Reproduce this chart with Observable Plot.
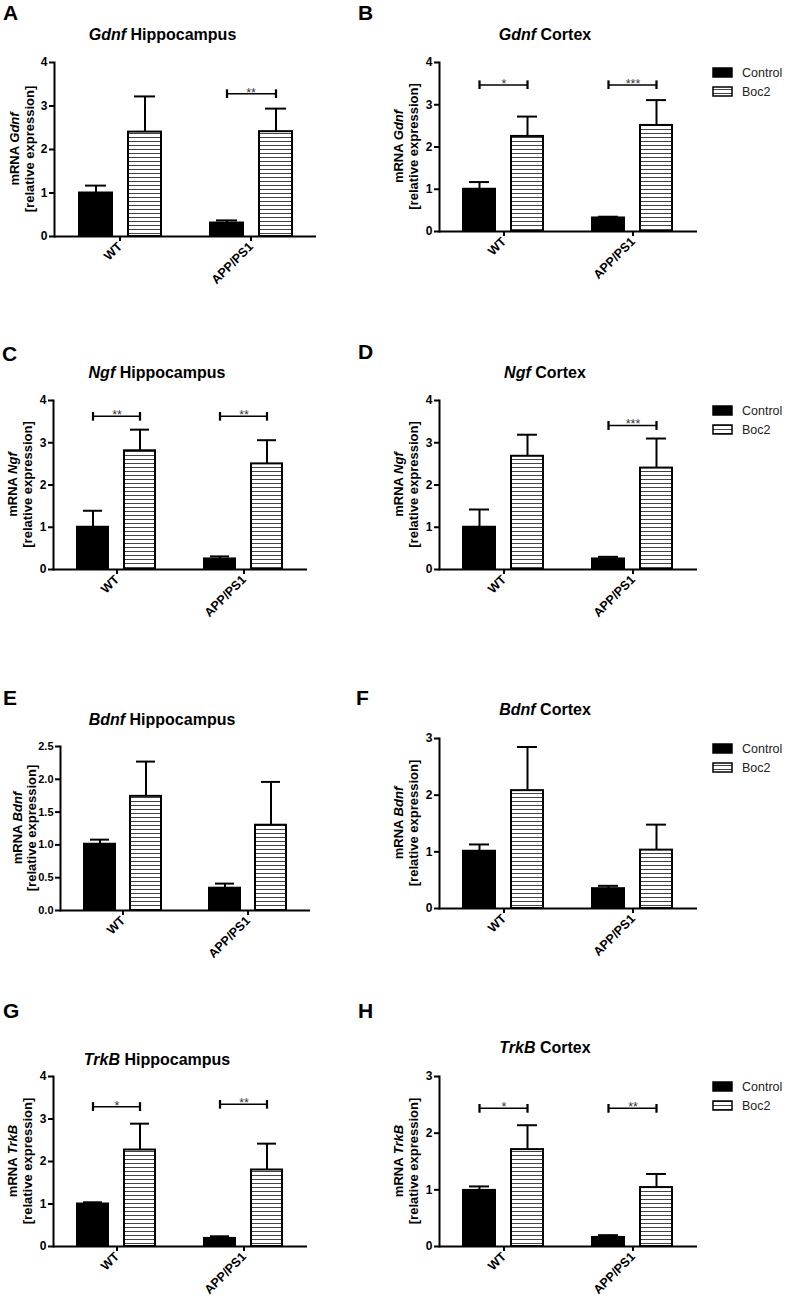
<!DOCTYPE html>
<html><head><meta charset="utf-8">
<script src="https://cdn.jsdelivr.net/npm/d3@7"></script>
<script src="https://cdn.jsdelivr.net/npm/@observablehq/plot@0.6"></script>
<style>
html,body{margin:0;padding:0;background:#fff;}
#root{position:relative;width:787px;height:1303px;overflow:hidden;font-family:"Liberation Sans",Arial,sans-serif;}
#root > svg{position:absolute;}
</style></head><body>
<svg width="0" height="0" style="position:absolute;left:0;top:0">
<defs>
<pattern id="stripes" patternUnits="userSpaceOnUse" width="8" height="4">
<rect width="8" height="4" fill="#fff"/>
<line x1="0" x2="8" y1="1.5" y2="1.5" stroke="#444" stroke-width="1"/>
</pattern>
</defs>
</svg>
<div id="root"></div>
<script>
// ---------- data ----------
const groups = ["WT", "APP/PS1"];
const treatments = ["Control", "Boc2"];
// order of values: WT-Control, WT-Boc2, APP/PS1-Control, APP/PS1-Boc2
const gdnfHippMean = [1.00, 2.40, 0.31, 2.41];
const gdnfHippSem  = [0.17, 0.82, 0.06, 0.53];
const gdnfHippSig  = [{group: "APP/PS1", y: 3.28, stars: "**"}];

const gdnfCortMean = [1.00, 2.25, 0.32, 2.51];
const gdnfCortSem  = [0.17, 0.47, 0.03, 0.60];
const gdnfCortSig  = [{group: "WT", y: 3.47, stars: "*"}, {group: "APP/PS1", y: 3.47, stars: "***"}];

const ngfHippMean = [1.00, 2.81, 0.25, 2.50];
const ngfHippSem  = [0.39, 0.50, 0.06, 0.56];
const ngfHippSig  = [{group: "WT", y: 3.63, stars: "**"}, {group: "APP/PS1", y: 3.63, stars: "**"}];

const ngfCortMean = [1.00, 2.68, 0.25, 2.40];
const ngfCortSem  = [0.42, 0.51, 0.05, 0.70];
const ngfCortSig  = [{group: "APP/PS1", y: 3.41, stars: "***"}];

const bdnfHippMean = [1.01, 1.74, 0.34, 1.30];
const bdnfHippSem  = [0.07, 0.53, 0.07, 0.66];
const bdnfHippSig  = [];

const bdnfCortMean = [1.01, 2.08, 0.35, 1.03];
const bdnfCortSem  = [0.12, 0.77, 0.05, 0.45];
const bdnfCortSig  = [];

const trkbHippMean = [1.00, 2.27, 0.19, 1.80];
const trkbHippSem  = [0.04, 0.62, 0.05, 0.62];
const trkbHippSig  = [{group: "WT", y: 3.29, stars: "*"}, {group: "APP/PS1", y: 3.35, stars: "**"}];

const trkbCortMean = [0.99, 1.71, 0.16, 1.04];
const trkbCortSem  = [0.07, 0.43, 0.04, 0.24];
const trkbCortSig  = [{group: "WT", y: 2.44, stars: "*"}, {group: "APP/PS1", y: 2.44, stars: "**"}];

const ticks4 = [0, 1, 2, 3, 4];
const ticks3 = [0, 1, 2, 3];
const ticks25 = [0, 0.5, 1, 1.5, 2, 2.5];

// ---------- panels ----------
const panels = [
  {letter: "A", gene: "Gdnf", region: "Hippocampus", mean: gdnfHippMean, sem: gdnfHippSem, sig: gdnfHippSig, ymax: 4, ticks: ticks4, fmt: "d",
   x0: 54, x1: 316, yt: 62, yb: 236, titleY: 40, letterX: 3, letterY: 20, legend: false, lab1: 40, lab2: 25, tickFont: 12},
  {letter: "B", gene: "Gdnf", region: "Cortex", mean: gdnfCortMean, sem: gdnfCortSem, sig: gdnfCortSig, ymax: 4, ticks: ticks4, fmt: "d",
   x0: 438, x1: 697, yt: 62, yb: 231, titleY: 40, letterX: 358, letterY: 20, legend: true, lab1: 40, lab2: 25, tickFont: 12},
  {letter: "C", gene: "Ngf", region: "Hippocampus", mean: ngfHippMean, sem: ngfHippSem, sig: ngfHippSig, ymax: 4, ticks: ticks4, fmt: "d",
   x0: 52, x1: 307, yt: 400, yb: 569, titleY: 378, letterX: 2, letterY: 361, legend: false, lab1: 40, lab2: 25, tickFont: 12},
  {letter: "D", gene: "Ngf", region: "Cortex", mean: ngfCortMean, sem: ngfCortSem, sig: ngfCortSig, ymax: 4, ticks: ticks4, fmt: "d",
   x0: 438, x1: 697, yt: 400, yb: 569, titleY: 378, letterX: 358, letterY: 359, legend: true, lab1: 40, lab2: 25, tickFont: 12},
  {letter: "E", gene: "Bdnf", region: "Hippocampus", mean: bdnfHippMean, sem: bdnfHippSem, sig: bdnfHippSig, ymax: 2.5, ticks: ticks25, fmt: ".1f",
   x0: 59, x1: 310, yt: 746, yb: 910, titleY: 725, letterX: 3, letterY: 705, legend: false, lab1: 42, lab2: 28, tickFont: 11},
  {letter: "F", gene: "Bdnf", region: "Cortex", mean: bdnfCortMean, sem: bdnfCortSem, sig: bdnfCortSig, ymax: 3, ticks: ticks3, fmt: "d",
   x0: 438, x1: 697, yt: 738, yb: 908, titleY: 715, letterX: 356, letterY: 705, legend: true, lab1: 40, lab2: 25, tickFont: 12},
  {letter: "G", gene: "TrkB", region: "Hippocampus", mean: trkbHippMean, sem: trkbHippSem, sig: trkbHippSig, ymax: 4, ticks: ticks4, fmt: "d",
   x0: 52, x1: 307, yt: 1076, yb: 1246, titleY: 1065, letterX: 3, letterY: 1018, legend: false, lab1: 40, lab2: 25, tickFont: 12},
  {letter: "H", gene: "TrkB", region: "Cortex", mean: trkbCortMean, sem: trkbCortSem, sig: trkbCortSig, ymax: 3, ticks: ticks3, fmt: "d",
   x0: 438, x1: 697, yt: 1076, yb: 1246, titleY: 1053, letterX: 358, letterY: 1018, legend: true, lab1: 40, lab2: 25, tickFont: 12}
];

const root = document.getElementById("root");
const FONT = "Liberation Sans, Arial, sans-serif";

for (const p of panels) {
  const ml = 40, mr = 8, mt = 10, mb = 75;
  const w = p.x1 - p.x0, h = p.yb - p.yt;
  const rows = [];
  groups.forEach((g, gi) => treatments.forEach((t, ti) => {
    const k = gi * 2 + ti;
    rows.push({group: g, treat: t, mean: p.mean[k], hi: p.mean[k] + p.sem[k]});
  }));
  const chart = Plot.plot({
    width: ml + w + mr, height: mt + h + mb,
    marginLeft: ml, marginRight: mr, marginTop: mt, marginBottom: mb,
    style: {fontFamily: FONT, background: "transparent", overflow: "visible"},
    fx: {domain: groups, padding: 0, axis: null},
    x: {domain: treatments, paddingInner: 0.33, paddingOuter: 0.5, axis: null},
    y: {domain: [0, p.ymax], axis: null},
    marks: [
      Plot.barY(rows.filter(d => d.treat === "Control"), {fx: "group", x: "treat", y: "mean", fill: "black", stroke: "black", strokeWidth: 2}),
      Plot.barY(rows.filter(d => d.treat === "Boc2"), {fx: "group", x: "treat", y: "mean", fill: "url(#stripes)", stroke: "black", strokeWidth: 2}),
      Plot.ruleX(rows, {fx: "group", x: "treat", y1: "mean", y2: "hi", stroke: "black", strokeWidth: 2}),
      Plot.tickY(rows, {fx: "group", x: "treat", y: "hi", inset: 6, stroke: "black", strokeWidth: 2}),
      Plot.ruleY([0], {stroke: "black", strokeWidth: 2}),
      Plot.frame({anchor: "left", facetAnchor: "left", stroke: "black", strokeWidth: 2}),
      Plot.axisY({ticks: p.ticks, tickSize: 5, tickPadding: 2, tickFormat: p.fmt, fontWeight: "bold", fontSize: p.tickFont, strokeWidth: 2, label: null}),
      Plot.axisFx({anchor: "bottom", tickSize: 5, tickPadding: 3, tickRotate: -45, fontWeight: "bold", fontSize: 12.5, strokeWidth: 2, label: null}),
      Plot.link(p.sig, {fx: "group", x1: () => "Control", x2: () => "Boc2", y1: "y", y2: "y", stroke: "black", strokeWidth: 1.5, markerStart: "tick", markerEnd: "tick"}),
      Plot.text(p.sig, {fx: "group", y: "y", text: "stars", frameAnchor: "middle", lineAnchor: "bottom", dy: 3, fontSize: 12.5, fill: "#333", letterSpacing: 1})
    ]
  });
  chart.style.left = (p.x0 - ml) + "px";
  chart.style.top = (p.yt - mt) + "px";
  root.appendChild(chart);
}

// ---------- annotations (titles, letters, axis titles, legends) ----------
const ov = d3.select(root).append("svg")
  .attr("width", 787).attr("height", 1303)
  .style("left", "0px").style("top", "0px")
  .style("font-family", FONT);

for (const p of panels) {
  // panel letter
  ov.append("text").attr("x", p.letterX).attr("y", p.letterY)
    .attr("font-weight", 700).attr("font-size", 21).text(p.letter);
  // title
  const t = ov.append("text").attr("x", (p.x0 - 45 + p.x1) / 2).attr("y", p.titleY)
    .attr("text-anchor", "middle").attr("font-weight", "bold").attr("font-size", 16);
  t.append("tspan").attr("font-style", "italic").text(p.gene);
  t.append("tspan").text(" " + p.region);
  // y axis title (two lines)
  const cy = (p.yt + p.yb) / 2;
  const l1 = ov.append("text").attr("transform", `translate(${p.x0 - p.lab1},${cy}) rotate(-90)`)
    .attr("text-anchor", "middle").attr("dominant-baseline", "central")
    .attr("font-weight", "bold").attr("font-size", 13);
  l1.append("tspan").text("mRNA ");
  l1.append("tspan").attr("font-style", "italic").text(p.gene);
  ov.append("text").attr("transform", `translate(${p.x0 - p.lab2},${cy}) rotate(-90)`)
    .attr("text-anchor", "middle").attr("dominant-baseline", "central")
    .attr("font-weight", "bold").attr("font-size", 13).text("[relative expression]");
  // legend
  if (p.legend) {
    const ly = p.yt + 6;
    treatments.forEach((tr, i) => {
      const y = ly + i * 19;
      ov.append("rect").attr("x", 713).attr("y", y).attr("width", 19).attr("height", 9)
        .attr("fill", tr === "Control" ? "black" : "url(#stripes)")
        .attr("stroke", "black").attr("stroke-width", 1.5);
      ov.append("text").attr("x", 742).attr("y", y + 4.5).attr("dominant-baseline", "central")
        .attr("font-size", 12.5).attr("fill", "#222").text(tr);
    });
  }
}
</script>
</body></html>
